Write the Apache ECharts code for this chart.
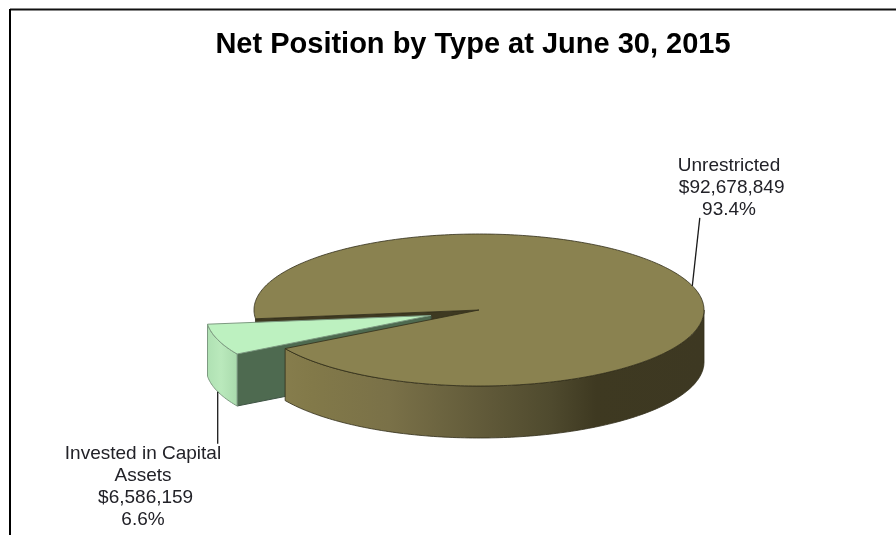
<!DOCTYPE html>
<html>
<head>
<meta charset="utf-8">
<style>html,body{margin:0;padding:0;background:#fff}#chart{width:896px;height:535px}</style>
<script src="https://cdn.jsdelivr.net/npm/echarts@6/dist/echarts.min.js"></script>
</head>
<body>
<div id="chart"></div>
<script>
// Net position by type, fiscal year end
const categories = ['Unrestricted', 'Invested in Capital\nAssets'];
const amounts = [92678849, 6586159];
const explode = [0, 0.225];

// Tilted pie geometry, in pixels
const cx = 479, cy = 310, rx = 225, ry = 76, depth = 52;
const firstSliceEnd = 149.5; // screen angle where the main slice ends (clockwise, 0 = east)
const total = amounts.reduce((a, b) => a + b, 0);
const rad = d => d * Math.PI / 180;

const labelFont = '19px "Liberation Sans", Arial, sans-serif';
const lineColor = 'rgba(50,46,26,0.8)';

function rimPoint(c, t, drop) {
  return [c[0] + rx * Math.cos(rad(t)), c[1] + ry * Math.sin(rad(t)) + (drop || 0)];
}
function arc(c, from, to, drop) {
  const pts = [];
  const n = Math.max(2, Math.ceil(Math.abs(to - from)));
  for (let i = 0; i <= n; i++) pts.push(rimPoint(c, from + (to - from) * i / n, drop));
  return pts;
}
function hGradient(x0, x1, stops) {
  return { type: 'linear', x: x0, y: 0, x2: x1, y2: 0, global: true,
    colorStops: stops.map(s => ({ offset: s[0], color: s[1] })) };
}
function poly(points, style, z2) {
  return { type: 'polygon', shape: { points }, style, z2 };
}

function renderWedge(params, api) {
  const i = params.dataIndex;
  const value = api.value(0);
  const sweep = value / total * 360;

  // Clockwise extent of each wedge on the tilted disc
  const start = i === 0 ? firstSliceEnd + amounts[1] / total * 360 : firstSliceEnd;
  const end = start + sweep;
  const mid = (start + end) / 2;
  const off = explode[i];
  const c = [cx + rx * off * Math.cos(rad(mid)), cy + ry * off * Math.sin(rad(mid))];
  const percent = (value / total * 100).toFixed(1) + '%';
  // The amount line carries a leading space, which nudges it right of centre
  const text = categories[i] + '\n $' + value.toLocaleString('en-US') + '\n' + percent;
  const kids = [];

  if (i === 0) {
    const a = rimPoint(c, start);
    // Cut face seen through the gap, behind the pulled-out slice
    kids.push(poly([c, a, rimPoint(c, start, depth), [c[0], c[1] + depth]],
      { fill: '#3e3921', stroke: lineColor, lineWidth: 1 }, 1));
    // Front rim, from the east extreme round to the end of the wedge
    const wrapEnd = end - 360;
    kids.push(poly(arc(c, 0, wrapEnd).concat(arc(c, wrapEnd, 0, depth)), {
      fill: hGradient(cx - rx, cx + rx, [
        [0, '#8a8150'], [0.13, '#827949'], [0.3, '#7a7148'], [0.5, '#625b3a'],
        [0.66, '#4f4a2e'], [0.76, '#3e3921'], [1, '#3d3822']]),
      stroke: lineColor, lineWidth: 1 }, 5));
    // Top face
    kids.push(poly([c].concat(arc(c, start, end)),
      { fill: '#8a8250', stroke: lineColor, lineWidth: 1 }, 6));
    // Leader line rises from the top edge at the wedge's middle
    const p = rimPoint(c, mid);
    kids.push({ type: 'line', shape: { x1: p[0], y1: p[1], x2: p[0] + 7.5, y2: p[1] - 68 },
      style: { stroke: '#1a1a1a', lineWidth: 1.3 }, z2: 7 });
    kids.push({ type: 'text', z2: 8, style: { x: 729, y: 155, text, font: labelFont,
      lineHeight: 22, fill: '#222228', textAlign: 'center', textVerticalAlign: 'top' } });
  } else {
    const b = rimPoint(c, start);
    // Cut face toward the viewer
    kids.push(poly([c, b, rimPoint(c, start, depth), [c[0], c[1] + depth]],
      { fill: '#4e6a50', stroke: '#3e5344', lineWidth: 1 }, 2));
    // Curved outer rim
    kids.push(poly(arc(c, start, end).concat(arc(c, end, start, depth)), {
      fill: hGradient(c[0] - rx, c[0] - rx + 30, [[0, '#aee0b2'], [0.5, '#bae9bc'], [1, '#abdcae']]),
      stroke: '#7d9a81', lineWidth: 1 }, 3));
    // Top face
    kids.push(poly([c].concat(arc(c, start, end)),
      { fill: '#bdf1c0', stroke: '#7d9a81', lineWidth: 1 }, 4));
    // Leader line drops from the rim's bottom edge
    const p = rimPoint(c, mid, depth);
    kids.push({ type: 'line', shape: { x1: p[0], y1: p[1], x2: p[0], y2: p[1] + 52 },
      style: { stroke: '#1a1a1a', lineWidth: 1.3 }, z2: 7 });
    kids.push({ type: 'text', z2: 8, style: { x: 143, y: 443, text, font: labelFont,
      lineHeight: 22, fill: '#222228', textAlign: 'center', textVerticalAlign: 'top' } });
  }
  return { type: 'group', children: kids };
}

const chart = echarts.init(document.getElementById('chart'), null, { renderer: 'canvas' });
chart.setOption({
  animation: false,
  backgroundColor: '#ffffff',
  title: {
    text: 'Net Position by Type at June 30, 2015',
    left: 468, top: 25, textAlign: 'center',
    textStyle: { fontFamily: '"Liberation Sans", Arial, sans-serif', fontWeight: 'bold', fontSize: 29, color: '#000' }
  },
  graphic: [
    { type: 'line', shape: { x1: 10, y1: 9.5, x2: 896, y2: 9.5 }, style: { stroke: '#111', lineWidth: 2 } },
    { type: 'line', shape: { x1: 10, y1: 9, x2: 10, y2: 535 }, style: { stroke: '#000', lineWidth: 2 } }
  ],
  series: [{
    type: 'custom',
    coordinateSystem: 'none',
    renderItem: renderWedge,
    data: amounts.map((v, i) => ({ name: categories[i], value: [v] }))
  }]
});
</script>
</body>
</html>
